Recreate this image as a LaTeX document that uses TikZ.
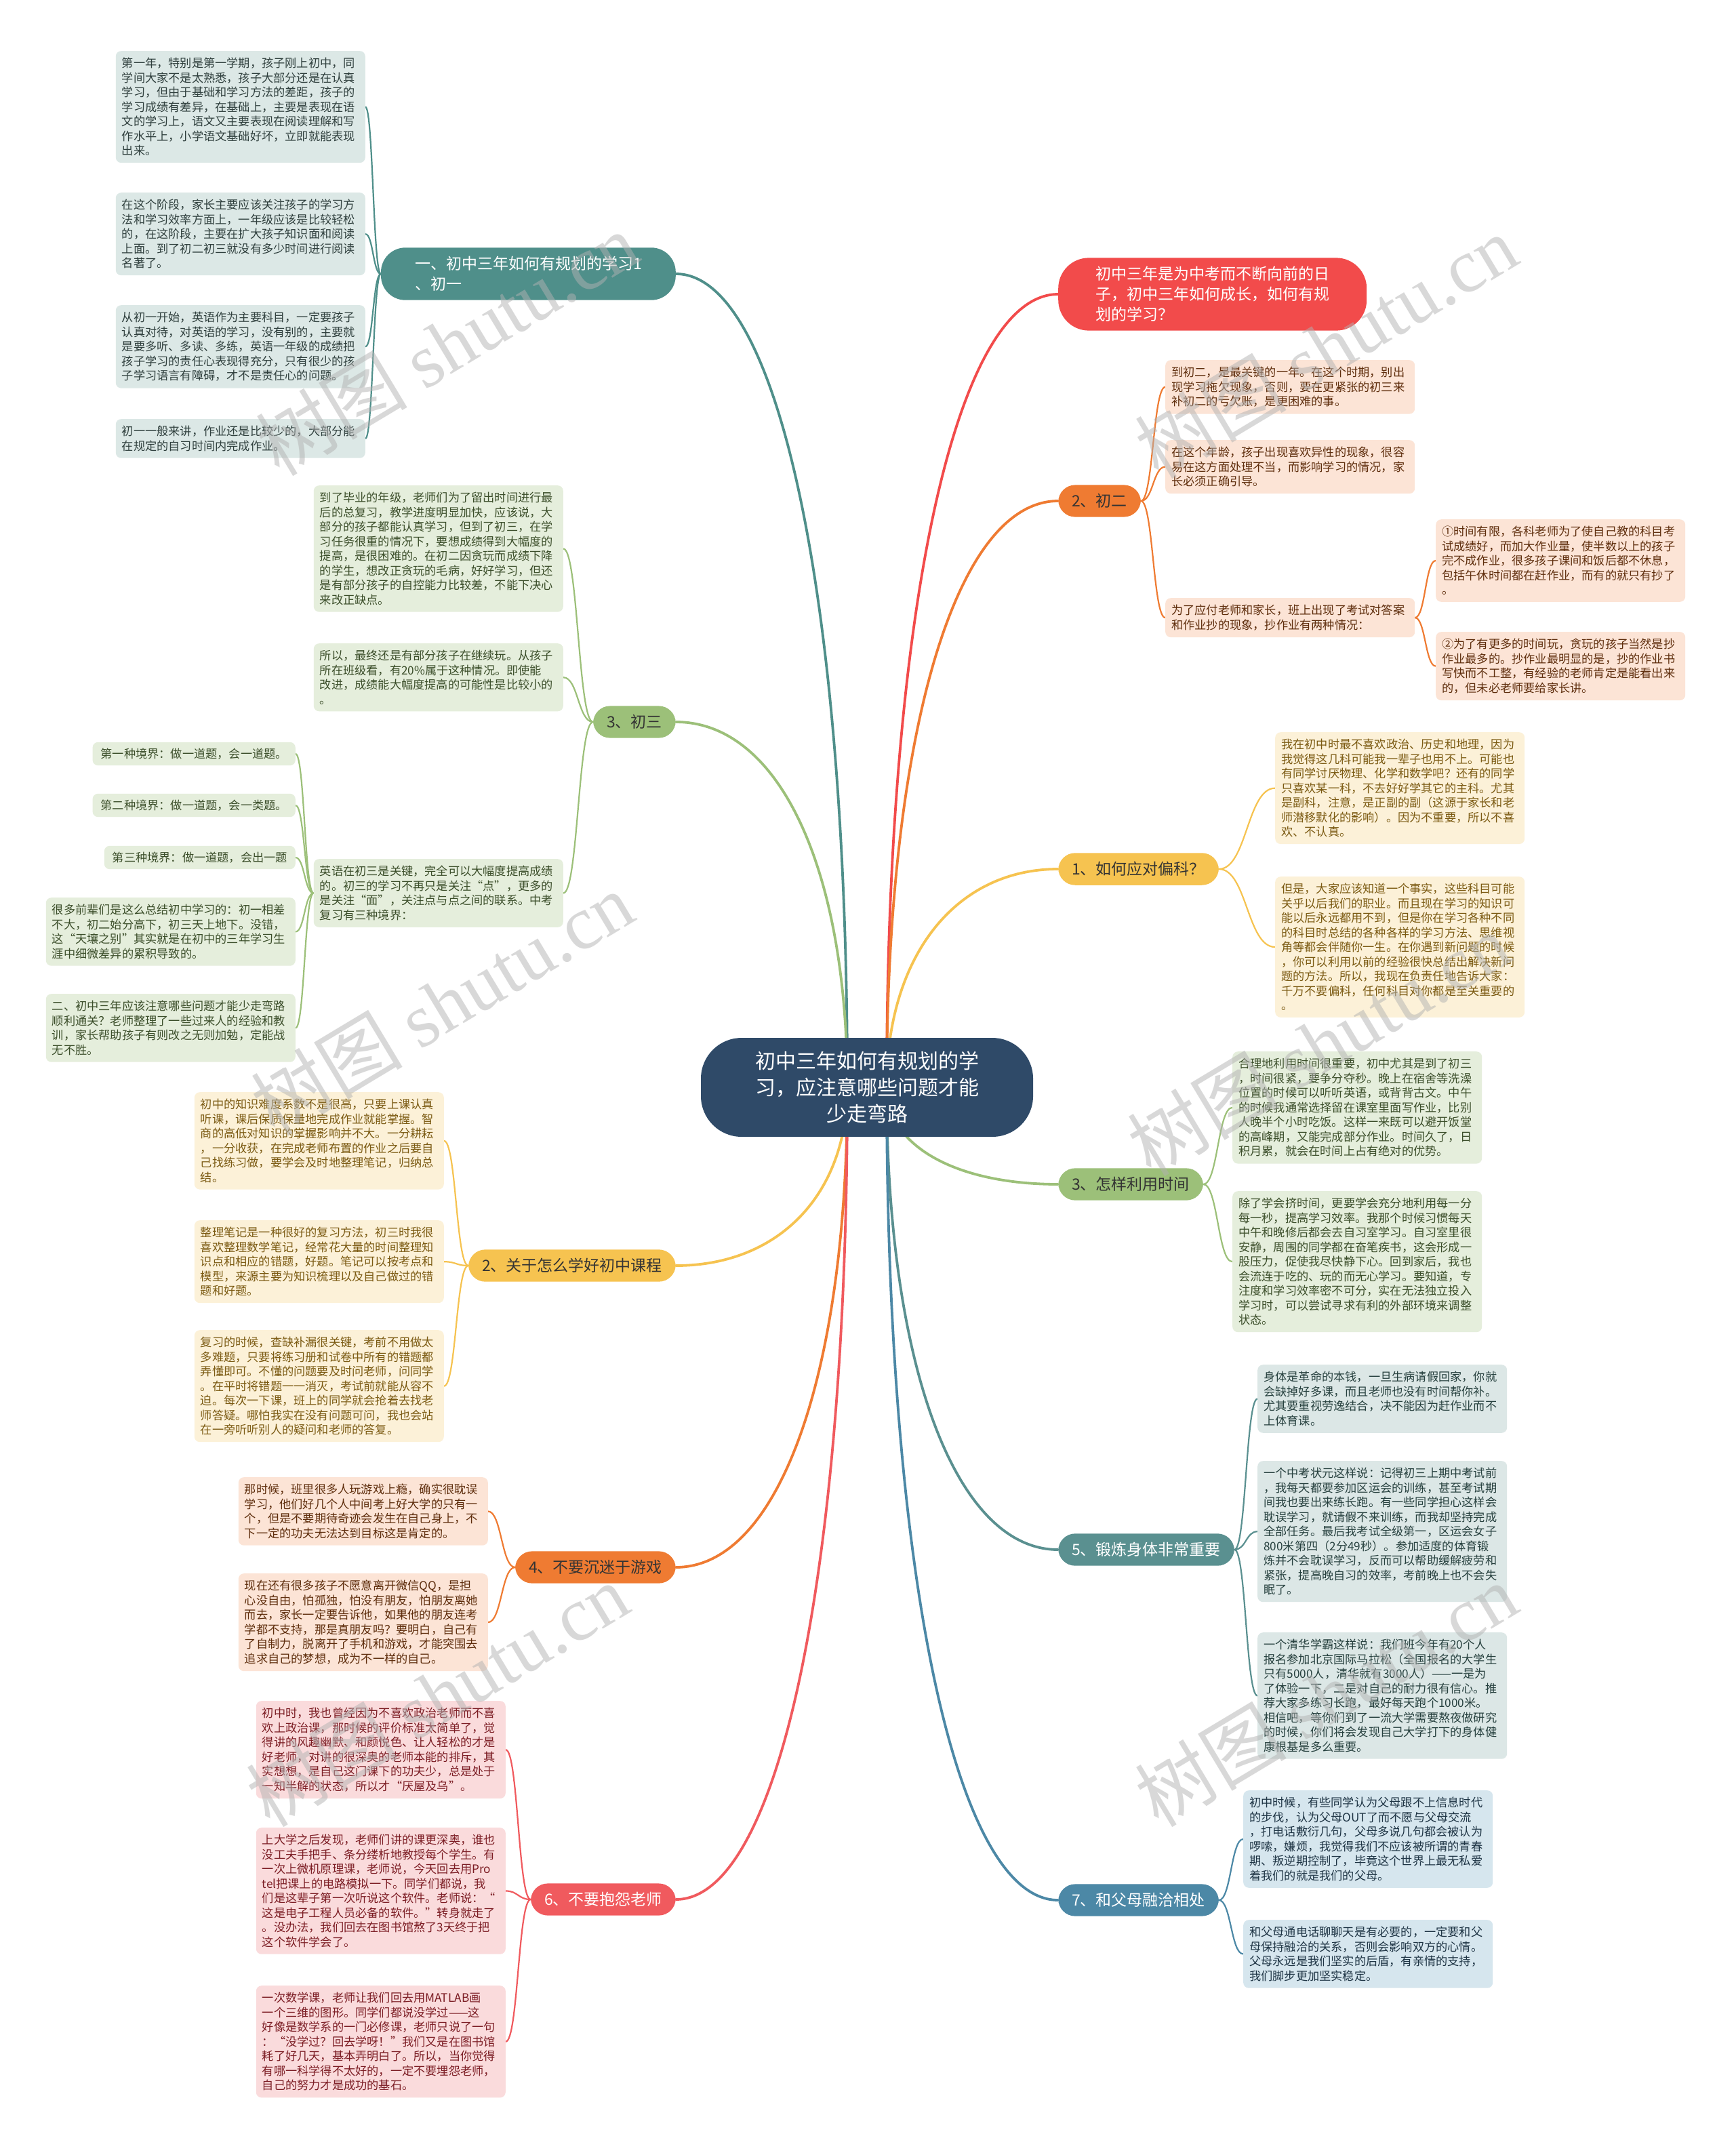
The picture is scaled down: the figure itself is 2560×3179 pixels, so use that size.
\documentclass[tikz,border=0pt]{standalone}
\usepackage{fontspec}
\setmainfont{Noto Sans CJK SC}
\newfontfamily\wmfont{Liberation Serif}
\usetikzlibrary{calc,backgrounds}
\definecolor{cCenter}{HTML}{2F4A68}
\definecolor{cTeal}{HTML}{4F8F8A}
\definecolor{cRed}{HTML}{F24B4B}
\definecolor{cOrange}{HTML}{EF7B32}
\definecolor{cYellow}{HTML}{F6C350}
\definecolor{cGreen}{HTML}{9CC079}
\definecolor{cSlate}{HTML}{5A9090}
\definecolor{cBlue}{HTML}{4C88A6}
\definecolor{cPink}{HTML}{F05A5E}
\definecolor{fTeal}{HTML}{DCE8E6}\definecolor{tTeal}{HTML}{2F3F3D}
\definecolor{fOrange}{HTML}{FCE4D6}\definecolor{tOrange}{HTML}{5E2D0C}
\definecolor{fYellow}{HTML}{FCF1D8}\definecolor{tYellow}{HTML}{7B5A12}
\definecolor{fGreen}{HTML}{E5EEDC}\definecolor{tGreen}{HTML}{3B4E2A}
\definecolor{fSlate}{HTML}{DCE7E6}\definecolor{tSlate}{HTML}{26403E}
\definecolor{fBlue}{HTML}{D6E6EE}\definecolor{tBlue}{HTML}{1E3444}
\definecolor{fPink}{HTML}{FADBDC}\definecolor{tPink}{HTML}{7C1D24}
\newcommand\mainline[3]{\draw[line width=3.8pt,#1] let \p1=(#2), \p2=(#3) in (\p1) .. controls ({\x1+0.6*(\x2-\x1)},\y1) and (\x2,{\y2+0.6*(\y1-\y2)}) .. (\p2);}
\newcommand\leafline[3]{\draw[line width=2.2pt,#1] let \p1=(#2), \p2=(#3) in (\p1) .. controls ({0.5*(\x1+\x2)},\y1) and ({0.5*(\x1+\x2)},\y2) .. (\p2);}
\tikzset{
  leaf/.style={rounded corners=8pt, inner xsep=9pt, inner ysep=10pt, align=left, text width=350pt, font=\fontsize{17.2}{21.5}\selectfont},
  sleaf/.style={rounded corners=8pt, inner xsep=12pt, inner ysep=9pt, font=\fontsize{17.2}{21.5}\selectfont},
  br/.style={rounded corners=25pt, inner xsep=20pt, inner ysep=13pt, font=\fontsize{23}{30}\selectfont, align=center},
  tealleaf/.style={leaf, fill=fTeal, text=tTeal},
  orangeleaf/.style={leaf, fill=fOrange, text=tOrange},
  yellowleaf/.style={leaf, fill=fYellow, text=tYellow},
  greenleaf/.style={leaf, fill=fGreen, text=tGreen},
  slateleaf/.style={leaf, fill=fSlate, text=tSlate},
  blueleaf/.style={leaf, fill=fBlue, text=tBlue},
  pinkleaf/.style={leaf, fill=fPink, text=tPink},
  wm/.style={rotate=31, text=black!30, opacity=0.5, inner sep=0pt, font=\fontsize{112}{112}\selectfont},
}
\begin{document}
\begin{tikzpicture}[x=1pt,y=-1pt]
\useasboundingbox (0,0) rectangle (2560,3179);

% ---------- nodes ----------
\node[fill=cCenter, text=white, rounded corners=60pt, inner xsep=80pt, inner ysep=20pt, align=center, font=\fontsize{30}{39}\selectfont] (ctr) at (1279,1604) {初中三年如何有规划的学\\习，应注意哪些问题才能\\少走弯路};
\coordinate (cL) at (1250,1604);
\coordinate (cR) at (1308,1604);

% left branches
\node[br, fill=cTeal, text=white, anchor=east, align=left, inner xsep=50pt, rounded corners=36pt] (l1) at (997,404) {一、初中三年如何有规划的学习1\\、初一};
\node[br, fill=cGreen, text=black!80, anchor=east] (l2) at (997,1065) {3、初三};
\node[br, fill=cYellow, text=black!80, anchor=east] (l3) at (997,1867) {2、关于怎么学好初中课程};
\node[br, fill=cOrange, text=black!80, anchor=east] (l4) at (997,2312) {4、不要沉迷于游戏};
\node[br, fill=cPink, text=white, anchor=east] (l5) at (997,2802) {6、不要抱怨老师};
% right branches
\node[br, fill=cRed, text=white, anchor=west, align=left, inner xsep=55pt, rounded corners=45pt] (r0) at (1561,434) {初中三年是为中考而不断向前的日\\子，初中三年如何成长，如何有规\\划的学习？};
\node[br, fill=cOrange, text=black!80, anchor=west] (r1) at (1561,739) {2、初二};
\node[br, fill=cYellow, text=black!80, anchor=west] (r2) at (1561,1282) {1、如何应对偏科？};
\node[br, fill=cGreen, text=black!80, anchor=west] (r3) at (1561,1747) {3、怎样利用时间};
\node[br, fill=cSlate, text=white, anchor=west] (r4) at (1561,2286) {5、锻炼身体非常重要};
\node[br, fill=cBlue, text=white, anchor=west] (r5) at (1561,2803) {7、和父母融洽相处};

% L1 leaves
\node[tealleaf, anchor=north east] (l1a) at (539,75) {第一年，特别是第一学期，孩子刚上初中，同\\学间大家不是太熟悉，孩子大部分还是在认真\\学习，但由于基础和学习方法的差距，孩子的\\学习成绩有差异，在基础上，主要是表现在语\\文的学习上，语文又主要表现在阅读理解和写\\作水平上，小学语文基础好坏，立即就能表现\\出来。};
\node[tealleaf, anchor=north east] (l1b) at (539,284) {在这个阶段，家长主要应该关注孩子的学习方\\法和学习效率方面上，一年级应该是比较轻松\\的，在这阶段，主要在扩大孩子知识面和阅读\\上面。到了初二初三就没有多少时间进行阅读\\名著了。};
\node[tealleaf, anchor=north east] (l1c) at (539,450) {从初一开始，英语作为主要科目，一定要孩子\\认真对待，对英语的学习，没有别的，主要就\\是要多听、多读、多练，英语一年级的成绩把\\孩子学习的责任心表现得充分，只有很少的孩\\子学习语言有障碍，才不是责任心的问题。};
\node[tealleaf, anchor=north east] (l1d) at (539,618) {初一一般来讲，作业还是比较少的，大部分能\\在规定的自习时间内完成作业。};

% L2 leaves
\node[greenleaf, anchor=north east] (l2a) at (831,716) {到了毕业的年级，老师们为了留出时间进行最\\后的总复习，教学进度明显加快，应该说，大\\部分的孩子都能认真学习，但到了初三，在学\\习任务很重的情况下，要想成绩得到大幅度的\\提高，是很困难的。在初二因贪玩而成绩下降\\的学生，想改正贪玩的毛病，好好学习，但还\\是有部分孩子的自控能力比较差，不能下决心\\来改正缺点。};
\node[greenleaf, anchor=north east] (l2b) at (831,949) {所以，最终还是有部分孩子在继续玩。从孩子\\所在班级看，有20\%属于这种情况。即使能\\改进，成绩能大幅度提高的可能性是比较小的\\。};
\node[greenleaf, anchor=north east] (l2c) at (831,1267) {英语在初三是关键，完全可以大幅度提高成绩\\的。初三的学习不再只是关注“点”，更多的\\是关注“面”，关注点与点之间的联系。中考\\复习有三种境界：};
\node[sleaf, fill=fGreen, text=tGreen, anchor=east] (c1) at (436,1112) {第一种境界：做一道题，会一道题。};
\node[sleaf, fill=fGreen, text=tGreen, anchor=east] (c2) at (436,1188) {第二种境界：做一道题，会一类题。};
\node[sleaf, fill=fGreen, text=tGreen, anchor=east] (c3) at (436,1265) {第三种境界：做一道题，会出一题};
\node[greenleaf, anchor=north east] (c4) at (436,1324) {很多前辈们是这么总结初中学习的：初一相差\\不大，初二始分高下，初三天上地下。没错，\\这“天壤之别”其实就是在初中的三年学习生\\涯中细微差异的累积导致的。};
\node[greenleaf, anchor=north east] (c5) at (436,1466) {二、初中三年应该注意哪些问题才能少走弯路\\顺利通关？老师整理了一些过来人的经验和教\\训，家长帮助孩子有则改之无则加勉，定能战\\无不胜。};

% L3 leaves
\node[yellowleaf, anchor=north east] (l3a) at (655,1611) {初中的知识难度系数不是很高，只要上课认真\\听课，课后保质保量地完成作业就能掌握。智\\商的高低对知识的掌握影响并不大。一分耕耘\\，一分收获，在完成老师布置的作业之后要自\\己找练习做，要学会及时地整理笔记，归纳总\\结。};
\node[yellowleaf, anchor=north east] (l3b) at (655,1800) {整理笔记是一种很好的复习方法，初三时我很\\喜欢整理数学笔记，经常花大量的时间整理知\\识点和相应的错题，好题。笔记可以按考点和\\模型，来源主要为知识梳理以及自己做过的错\\题和好题。};
\node[yellowleaf, anchor=north east] (l3c) at (655,1962) {复习的时候，查缺补漏很关键，考前不用做太\\多难题，只要将练习册和试卷中所有的错题都\\弄懂即可。不懂的问题要及时问老师，问同学\\。在平时将错题一一消灭，考试前就能从容不\\迫。每次一下课，班上的同学就会抢着去找老\\师答疑。哪怕我实在没有问题可问，我也会站\\在一旁听听别人的疑问和老师的答复。};

% L4 leaves
\node[orangeleaf, anchor=north east] (l4a) at (720,2179) {那时候，班里很多人玩游戏上瘾，确实很耽误\\学习，他们好几个人中间考上好大学的只有一\\个，但是不要期待奇迹会发生在自己身上，不\\下一定的功夫无法达到目标这是肯定的。};
\node[orangeleaf, anchor=north east] (l4b) at (720,2321) {现在还有很多孩子不愿意离开微信QQ，是担\\心没自由，怕孤独，怕没有朋友，怕朋友离她\\而去，家长一定要告诉他，如果他的朋友连考\\学都不支持，那是真朋友吗？要明白，自己有\\了自制力，脱离开了手机和游戏，才能突围去\\追求自己的梦想，成为不一样的自己。};

% L5 leaves
\node[pinkleaf, anchor=north east] (l5a) at (746,2509) {初中时，我也曾经因为不喜欢政治老师而不喜\\欢上政治课，那时候的评价标准太简单了，觉\\得讲的风趣幽默、和颜悦色、让人轻松的才是\\好老师，对讲的很深奥的老师本能的排斥，其\\实想想，是自己这门课下的功夫少，总是处于\\一知半解的状态，所以才“厌屋及乌”。};
\node[pinkleaf, anchor=north east] (l5b) at (746,2696) {上大学之后发现，老师们讲的课更深奥，谁也\\没工夫手把手、条分缕析地教授每个学生。有\\一次上微机原理课，老师说，今天回去用Pro\\tel把课上的电路模拟一下。同学们都说，我\\们是这辈子第一次听说这个软件。老师说：“\\这是电子工程人员必备的软件。”转身就走了\\。没办法，我们回去在图书馆熬了3天终于把\\这个软件学会了。};
\node[pinkleaf, anchor=north east] (l5c) at (746,2929) {一次数学课，老师让我们回去用MATLAB画\\一个三维的图形。同学们都说没学过——这\\好像是数学系的一门必修课，老师只说了一句\\：“没学过？回去学呀！”我们又是在图书馆\\耗了好几天，基本弄明白了。所以，当你觉得\\有哪一科学得不太好的，一定不要埋怨老师，\\自己的努力才是成功的基石。};

% R1 leaves
\node[orangeleaf, anchor=north west] (r1a) at (1719,531) {到初二，是最关键的一年。在这个时期，别出\\现学习拖欠现象，否则，要在更紧张的初三来\\补初二的亏欠账，是更困难的事。};
\node[orangeleaf, anchor=north west] (r1b) at (1719,649) {在这个年龄，孩子出现喜欢异性的现象，很容\\易在这方面处理不当，而影响学习的情况，家\\长必须正确引导。};
\node[orangeleaf, anchor=north west] (r1c) at (1719,882) {为了应付老师和家长，班上出现了考试对答案\\和作业抄的现象，抄作业有两种情况：};
\node[orangeleaf, anchor=north west] (r1c1) at (2118,766) {①时间有限，各科老师为了使自己教的科目考\\试成绩好，而加大作业量，使半数以上的孩子\\完不成作业，很多孩子课间和饭后都不休息，\\包括午休时间都在赶作业，而有的就只有抄了\\。};
\node[orangeleaf, anchor=north west] (r1c2) at (2118,932) {②为了有更多的时间玩，贪玩的孩子当然是抄\\作业最多的。抄作业最明显的是，抄的作业书\\写快而不工整，有经验的老师肯定是能看出来\\的，但未必老师要给家长讲。};

% R2 leaves
\node[yellowleaf, anchor=north west] (r2a) at (1881,1080) {我在初中时最不喜欢政治、历史和地理，因为\\我觉得这几科可能我一辈子也用不上。可能也\\有同学讨厌物理、化学和数学吧？还有的同学\\只喜欢某一科，不去好好学其它的主科。尤其\\是副科，注意，是正副的副（这源于家长和老\\师潜移默化的影响）。因为不重要，所以不喜\\欢、不认真。};
\node[yellowleaf, anchor=north west] (r2b) at (1881,1293) {但是，大家应该知道一个事实，这些科目可能\\关乎以后我们的职业。而且现在学习的知识可\\能以后永远都用不到，但是你在学习各种不同\\的科目时总结的各种各样的学习方法、思维视\\角等都会伴随你一生。在你遇到新问题的时候\\，你可以利用以前的经验很快总结出解决新问\\题的方法。所以，我现在负责任地告诉大家：\\千万不要偏科，任何科目对你都是至关重要的\\。};

% R3 leaves
\node[greenleaf, anchor=north west] (r3a) at (1818,1551) {合理地利用时间很重要，初中尤其是到了初三\\，时间很紧，要争分夺秒。晚上在宿舍等洗澡\\位置的时候可以听听英语，或背背古文。中午\\的时候我通常选择留在课室里面写作业，比别\\人晚半个小时吃饭。这样一来既可以避开饭堂\\的高峰期，又能完成部分作业。时间久了，日\\积月累，就会在时间上占有绝对的优势。};
\node[greenleaf, anchor=north west] (r3b) at (1818,1757) {除了学会挤时间，更要学会充分地利用每一分\\每一秒，提高学习效率。我那个时候习惯每天\\中午和晚修后都会去自习室学习。自习室里很\\安静，周围的同学都在奋笔疾书，这会形成一\\股压力，促使我尽快静下心。回到家后，我也\\会流连于吃的、玩的而无心学习。要知道，专\\注度和学习效率密不可分，实在无法独立投入\\学习时，可以尝试寻求有利的外部环境来调整\\状态。};

% R4 leaves
\node[slateleaf, anchor=north west] (r4a) at (1855,2013) {身体是革命的本钱，一旦生病请假回家，你就\\会缺掉好多课，而且老师也没有时间帮你补。\\尤其要重视劳逸结合，决不能因为赶作业而不\\上体育课。};
\node[slateleaf, anchor=north west] (r4b) at (1855,2155) {一个中考状元这样说：记得初三上期中考试前\\，我每天都要参加区运会的训练，甚至考试期\\间我也要出来练长跑。有一些同学担心这样会\\耽误学习，就请假不来训练，而我却坚持完成\\全部任务。最后我考试全级第一，区运会女子\\800米第四（2分49秒）。参加适度的体育锻\\炼并不会耽误学习，反而可以帮助缓解疲劳和\\紧张，提高晚自习的效率，考前晚上也不会失\\眠了。};
\node[slateleaf, anchor=north west] (r4c) at (1855,2408) {一个清华学霸这样说：我们班今年有20个人\\报名参加北京国际马拉松（全国报名的大学生\\只有5000人，清华就有3000人）——一是为\\了体验一下，二是对自己的耐力很有信心。推\\荐大家多练习长跑，最好每天跑个1000米。\\相信吧，等你们到了一流大学需要熬夜做研究\\的时候，你们将会发现自己大学打下的身体健\\康根基是多么重要。};

% R5 leaves
\node[blueleaf, anchor=north west] (r5a) at (1834,2641) {初中时候，有些同学认为父母跟不上信息时代\\的步伐，认为父母OUT了而不愿与父母交流\\，打电话敷衍几句，父母多说几句都会被认为\\啰嗦，嫌烦，我觉得我们不应该被所谓的青春\\期、叛逆期控制了，毕竟这个世界上最无私爱\\着我们的就是我们的父母。};
\node[blueleaf, anchor=north west] (r5b) at (1834,2832) {和父母通电话聊聊天是有必要的，一定要和父\\母保持融洽的关系，否则会影响双方的心情。\\父母永远是我们坚实的后盾，有亲情的支持，\\我们脚步更加坚实稳定。};

% ---------- connectors (behind nodes) ----------
\begin{scope}[on background layer]
\fill[white] (0,0) rectangle (2560,3179);
\mainline{cTeal}{l1.east}{cL}
\mainline{cGreen}{l2.east}{cL}
\mainline{cYellow}{l3.east}{cL}
\mainline{cOrange}{l4.east}{cL}
\mainline{cPink}{l5.east}{cL}
\mainline{cRed}{r0.west}{cR}
\mainline{cOrange}{r1.west}{cR}
\mainline{cYellow}{r2.west}{cR}
\mainline{cGreen}{r3.west}{cR}
\mainline{cSlate}{r4.west}{cR}
\mainline{cBlue}{r5.west}{cR}
\foreach \t in {l1a,l1b,l1c,l1d}{\leafline{cTeal}{l1.west}{\t.east}}
\foreach \t in {l2a,l2b,l2c}{\leafline{cGreen}{l2.west}{\t.east}}
\foreach \t in {c1,c2,c3,c4,c5}{\leafline{cGreen}{l2c.west}{\t.east}}
\foreach \t in {l3a,l3b,l3c}{\leafline{cYellow}{l3.west}{\t.east}}
\foreach \t in {l4a,l4b}{\leafline{cOrange}{l4.west}{\t.east}}
\foreach \t in {l5a,l5b,l5c}{\leafline{cPink}{l5.west}{\t.east}}
\foreach \t in {r1a,r1b,r1c}{\leafline{cOrange}{r1.east}{\t.west}}
\foreach \t in {r1c1,r1c2}{\leafline{cOrange}{r1c.east}{\t.west}}
\foreach \t in {r2a,r2b}{\leafline{cYellow}{r2.east}{\t.west}}
\foreach \t in {r3a,r3b}{\leafline{cGreen}{r3.east}{\t.west}}
\foreach \t in {r4a,r4b,r4c}{\leafline{cSlate}{r4.east}{\t.west}}
\foreach \t in {r5a,r5b}{\leafline{cBlue}{r5.east}{\t.west}}
\end{scope}

% ---------- watermark ----------
\node[wm] (wm1) at (659,507) {树图 {\wmfont shutu.cn}};
\node[wm] (wm2) at (1956,511) {树图 {\wmfont shutu.cn}};
\node[wm] (wm3) at (652,1480) {树图 {\wmfont shutu.cn}};
\node[wm] (wm4) at (1945,1540) {树图 {\wmfont shutu.cn}};
\node[wm] (wm5) at (645,2500) {树图 {\wmfont shutu.cn}};
\node[wm] (wm6) at (1956,2500) {树图 {\wmfont shutu.cn}};
\end{tikzpicture}
\end{document}
